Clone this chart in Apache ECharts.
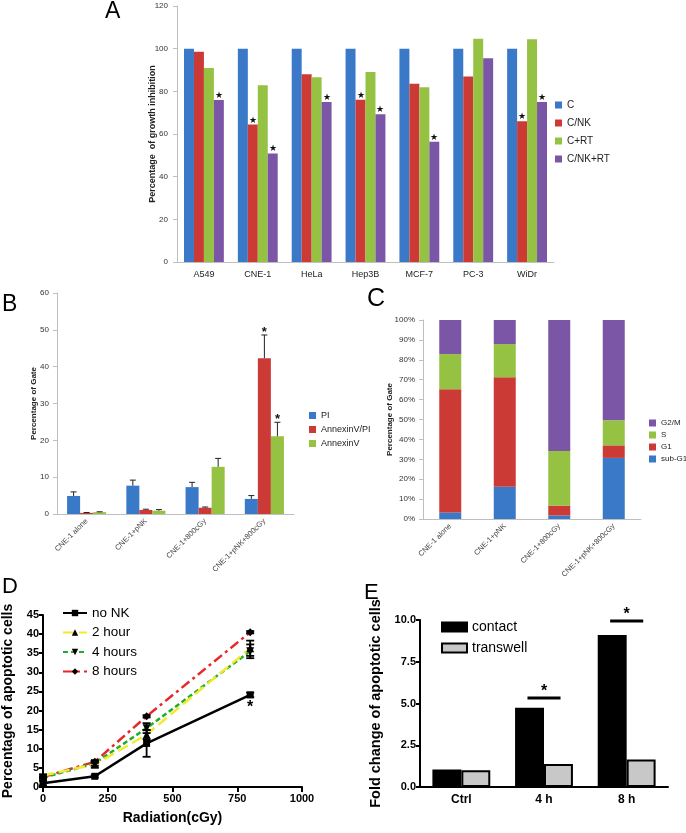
<!DOCTYPE html>
<html><head><meta charset="utf-8">
<script src="https://cdn.jsdelivr.net/npm/echarts@6/dist/echarts.min.js"></script>
<style>html,body{margin:0;padding:0;background:#fff}#c{width:686px;height:833px}</style>
</head><body><div id="c"></div>
<script>
// ---------- Panel A ----------
const aCategories = ['A549','CNE-1','HeLa','Hep3B','MCF-7','PC-3','WiDr'];
const aNames = ['C','C/NK','C+RT','C/NK+RT'];
const aC     = [100,100,100,100,100,100,100];
const aCNK   = [98.6,64.4,88.0,76.1,83.6,86.9,66.0];
const aCRT   = [90.9,82.8,86.6,89.1,81.9,104.7,104.4];
const aCNKRT = [75.9,50.9,75.0,69.2,56.4,95.5,75.0];
const aStarCNK   = [0,1,0,1,0,0,1];
const aStarCNKRT = [1,1,1,1,1,0,1];
// ---------- Panel B ----------
const bCategories = ['CNE-1 alone','CNE-1+pNK','CNE-1+800cGy','CNE-1+pNK+800cGy'];
const bNames = ['PI','AnnexinV/PI','AnnexinV'];
const bPI = [4.9,7.7,7.3,4.1];        const bPIErr = [1.1,1.5,1.3,0.9];
const bAnnPI = [0.3,1.1,1.7,42.3];    const bAnnPIErr = [0.1,0.2,0.2,6.3];
const bAnn = [0.5,0.9,12.8,21.1];     const bAnnErr = [0.1,0.3,2.3,3.8];
const bStarAnnPI = [0,0,0,1];
const bStarAnn = [0,0,0,1];
// ---------- Panel C ----------
const cCategories = ['CNE-1 alone','CNE-1+pNK','CNE-1+800cGy','CNE-1+pNK+800cGy'];
const cSubG1 = [3.3,16.2,1.8,30.7];
const cG1    = [61.9,55.0,4.9,6.3];
const cS     = [17.7,16.7,27.5,12.6];
const cG2M   = [17.1,12.1,65.8,50.4];
// ---------- Panel D ----------
const dX = [0,200,400,800];
const dNoNK = [1.0,2.8,11.4,24.1];  const dNoNKErr = [0.6,0.3,3.5,0.6];
const d2h   = [3.0,5.9,13.7,36.3];  const d2hErr   = [0.3,0.8,1.2,2.0];
const d4h   = [2.4,6.2,15.4,35.5];  const d4hErr   = [0.3,0.6,1.3,1.8];
const d8h   = [2.6,6.6,18.5,40.5];  const d8hErr   = [0.2,0.3,0.3,0.3];
const dStar = [[800,20.9]];
// ---------- Panel E ----------
const eCategories = ['Ctrl','4 h','8 h'];
const eContact   = [1.05,4.75,9.1];
const eTranswell = [1.0,1.37,1.65];
const eSig = [[1,5.33],[2,9.94]];

const F = '"Liberation Sans", Arial, sans-serif';
const blue='#3a78c8', red='#cc3a36', green='#96c244', purple='#7c56a6';
const gray='#bfbfbf';

function starData(vals, stars){
  return vals.map((v,i)=> stars[i] ? {value:v, label:{show:true, position:'top', distance:0, formatter:'★', fontSize:9, color:'#111'}} : v);
}
function catErr(ax, vals, errs, idx, n, gap, stars){
  return {
    type:'custom', xAxisIndex:ax, yAxisIndex:ax, z:5, silent:true,
    data: vals.map((v,i)=>[i, v, errs[i], stars && stars[i] ? 1 : 0]),
    renderItem: function(params, api){
      const i=api.value(0), v=api.value(1), e=api.value(2), s=api.value(3);
      const band = api.size([1,0])[0];
      const tot = band*(1-gap), bw = tot/n;
      const cx = api.coord([i,0])[0] - tot/2 + bw*(idx+0.5);
      const y0 = api.coord([i,v])[1], y1 = api.coord([i,v+e])[1];
      const ch = [
        {type:'line', shape:{x1:cx,y1:y0,x2:cx,y2:y1}, style:{stroke:'#222', lineWidth:1}},
        {type:'line', shape:{x1:cx-3,y1:y1,x2:cx+3,y2:y1}, style:{stroke:'#222', lineWidth:1}}
      ];
      if (s) ch.push({type:'text', style:{text:'*', x:cx, y:y1-3, align:'center', verticalAlign:'middle', font:'bold 13px '+F, fill:'#111'}});
      return {type:'group', children:ch};
    }
  };
}
function valErr(vals, errs){
  return {
    type:'custom', xAxisIndex:3, yAxisIndex:3, z:6, silent:true,
    data: dX.map((x,i)=>[x, vals[i], errs[i]]),
    renderItem: function(params, api){
      const x=api.value(0), v=api.value(1), e=api.value(2);
      const t=api.coord([x, v+e]), b=api.coord([x, Math.max(0,v-e)]);
      const st={stroke:'#000', lineWidth:1.8};
      return {type:'group', children:[
        {type:'line', shape:{x1:t[0],y1:t[1],x2:b[0],y2:b[1]}, style:st},
        {type:'line', shape:{x1:t[0]-4,y1:t[1],x2:t[0]+4,y2:t[1]}, style:st},
        {type:'line', shape:{x1:b[0]-4,y1:b[1],x2:b[0]+4,y2:b[1]}, style:st}
      ]};
    }
  };
}

const excelAxisLabel = {fontFamily:F, fontSize:8, color:'#333'};
const gpLabel = {fontFamily:F, fontSize:11, fontWeight:'bold', color:'#000'};

const option = {
  animation:false,
  backgroundColor:'#fff',
  grid:[
    {left:177, top:6, width:377, height:256, outerBoundsMode:'none'},
    {left:57, top:293, width:237, height:221, outerBoundsMode:'none'},
    {left:423, top:320, width:218, height:199, outerBoundsMode:'none'},
    {left:43, top:615, width:259, height:172, outerBoundsMode:'none'},
    {left:420, top:620, width:248, height:167, outerBoundsMode:'none'}
  ],
  xAxis:[
    {type:'category', gridIndex:0, data:aCategories,
     axisLine:{lineStyle:{color:gray}}, axisTick:{length:4, lineStyle:{color:gray}},
     axisLabel:{fontFamily:F, fontSize:9, color:'#222', margin:8}},
    {type:'category', gridIndex:1, data:bCategories,
     axisLine:{lineStyle:{color:gray}}, axisTick:{length:4, lineStyle:{color:gray}},
     axisLabel:{fontFamily:F, fontSize:7.5, color:'#444', rotate:45, margin:6}},
    {type:'category', gridIndex:2, data:cCategories,
     axisLine:{lineStyle:{color:gray}}, axisTick:{length:4, lineStyle:{color:gray}},
     axisLabel:{fontFamily:F, fontSize:7.5, color:'#444', rotate:45, margin:6}},
    {type:'value', gridIndex:3, min:0, max:1000, interval:250,
     axisLine:{show:true, lineStyle:{color:'#000', width:2}}, axisTick:{show:true, length:5, lineStyle:{color:'#000', width:2}},
     splitLine:{show:false}, axisLabel:Object.assign({margin:6, formatter:v=>String(v)}, gpLabel),
     name:'Radiation(cGy)', nameLocation:'middle', nameGap:24, nameMoveOverlap:false,
     nameTextStyle:{fontFamily:F, fontSize:14, fontWeight:'bold', color:'#000'}},
    {type:'category', gridIndex:4, data:eCategories,
     axisLine:{lineStyle:{color:'#000', width:2}}, axisTick:{show:false},
     axisLabel:Object.assign({margin:7}, gpLabel, {fontSize:12})}
  ],
  yAxis:[
    {type:'value', gridIndex:0, min:0, max:120, interval:20,
     axisLine:{show:true, lineStyle:{color:gray}}, axisTick:{show:true, length:4, lineStyle:{color:gray}},
     splitLine:{show:false}, axisLabel:Object.assign({margin:9}, excelAxisLabel),
     name:'Percentage  of growth inhibition', nameLocation:'middle', nameGap:19.5, nameMoveOverlap:false,
     nameTextStyle:{fontFamily:F, fontSize:9, fontWeight:'bold', color:'#222'}},
    {type:'value', gridIndex:1, min:0, max:60, interval:10,
     axisLine:{show:true, lineStyle:{color:gray}}, axisTick:{show:true, length:4, lineStyle:{color:gray}},
     splitLine:{show:false}, axisLabel:Object.assign({margin:8}, excelAxisLabel),
     name:'Percentage of Gate', nameLocation:'middle', nameGap:19.5, nameMoveOverlap:false,
     nameTextStyle:{fontFamily:F, fontSize:8, fontWeight:'bold', color:'#222'}},
    {type:'value', gridIndex:2, min:0, max:100, interval:10,
     axisLine:{show:true, lineStyle:{color:gray}}, axisTick:{show:true, length:4, lineStyle:{color:gray}},
     splitLine:{show:false}, axisLabel:Object.assign({margin:8, formatter:'{value}%'}, excelAxisLabel),
     name:'Percentage of Gate', nameLocation:'middle', nameGap:29.5, nameMoveOverlap:false,
     nameTextStyle:{fontFamily:F, fontSize:8, fontWeight:'bold', color:'#222'}},
    {type:'value', gridIndex:3, min:0, max:45, interval:5,
     axisLine:{show:true, lineStyle:{color:'#000', width:2}}, axisTick:{show:true, length:4, lineStyle:{color:'#000', width:2}},
     splitLine:{show:false}, axisLabel:Object.assign({margin:4}, gpLabel),
     name:'Percentage of apoptotic cells', nameLocation:'middle', nameGap:27.5, nameMoveOverlap:false,
     nameTextStyle:{fontFamily:F, fontSize:14, fontWeight:'bold', color:'#000'}},
    {type:'value', gridIndex:4, min:0, max:10, interval:2.5,
     axisLine:{show:true, lineStyle:{color:'#000', width:2}}, axisTick:{show:true, length:4, lineStyle:{color:'#000', width:2}},
     splitLine:{show:false}, axisLabel:Object.assign({margin:4, formatter:v=>v.toFixed(1)}, gpLabel),
     name:'Fold change of apoptotic cells', nameLocation:'middle', nameGap:37, nameMoveOverlap:false,
     nameTextStyle:{fontFamily:F, fontSize:14.5, fontWeight:'bold', color:'#000'}}
  ],
  legend:[
    {data:aNames, orient:'vertical', left:555, top:100, padding:0, itemWidth:7, itemHeight:7, itemGap:8, icon:'rect',
     textStyle:{fontFamily:F, fontSize:10, color:'#222'}},
    {data:bNames, orient:'vertical', left:309, top:411, padding:0, itemWidth:7, itemHeight:7, itemGap:5, icon:'rect',
     textStyle:{fontFamily:F, fontSize:9, color:'#222'}},
    {data:['G2/M','S','G1','sub-G1'], orient:'vertical', left:649, top:419, padding:0, itemWidth:7, itemHeight:7, itemGap:4, icon:'rect',
     textStyle:{fontFamily:F, fontSize:8, color:'#222'}},
    {data:['no NK','2 hour','4 hours','8 hours'], orient:'vertical', left:62, top:606, padding:0, itemWidth:24, itemHeight:8, itemGap:5.5,
     textStyle:{fontFamily:F, fontSize:13.5, color:'#000'}},
    {data:['contact','transwell'], orient:'vertical', left:441, top:620, padding:0, itemWidth:25, itemHeight:9, itemGap:7, icon:'rect',
     itemStyle:{borderColor:'#000', borderWidth:2},
     textStyle:{fontFamily:F, fontSize:14, color:'#000'}}
  ],
  graphic:[
    {type:'text', left:105, top:0, style:{text:'A', font:'23px '+F, fill:'#000'}},
    {type:'text', left:2, top:293, style:{text:'B', font:'23px '+F, fill:'#000'}},
    {type:'text', left:367, top:287, style:{text:'C', font:'25px '+F, fill:'#000'}},
    {type:'text', left:2, top:576, style:{text:'D', font:'22px '+F, fill:'#000'}},
    {type:'text', left:364, top:582, style:{text:'E', font:'22px '+F, fill:'#000'}}
  ],
  series:[
    // A
    {name:'C', type:'bar', xAxisIndex:0, yAxisIndex:0, data:aC, barGap:'0%', barCategoryGap:'26%', itemStyle:{color:blue}},
    {name:'C/NK', type:'bar', xAxisIndex:0, yAxisIndex:0, data:starData(aCNK,aStarCNK), itemStyle:{color:red}},
    {name:'C+RT', type:'bar', xAxisIndex:0, yAxisIndex:0, data:aCRT, itemStyle:{color:green}},
    {name:'C/NK+RT', type:'bar', xAxisIndex:0, yAxisIndex:0, data:starData(aCNKRT,aStarCNKRT), itemStyle:{color:purple}},
    // B
    {name:'PI', type:'bar', xAxisIndex:1, yAxisIndex:1, data:bPI, barGap:'0%', barCategoryGap:'34%', itemStyle:{color:blue}},
    {name:'AnnexinV/PI', type:'bar', xAxisIndex:1, yAxisIndex:1, data:bAnnPI, itemStyle:{color:red}},
    {name:'AnnexinV', type:'bar', xAxisIndex:1, yAxisIndex:1, data:bAnn, itemStyle:{color:green}},
    catErr(1, bPI, bPIErr, 0, 3, 0.34, null),
    catErr(1, bAnnPI, bAnnPIErr, 1, 3, 0.34, bStarAnnPI),
    catErr(1, bAnn, bAnnErr, 2, 3, 0.34, bStarAnn),
    // C
    {name:'sub-G1', type:'bar', stack:'c', xAxisIndex:2, yAxisIndex:2, data:cSubG1, barWidth:22, itemStyle:{color:blue}},
    {name:'G1', type:'bar', stack:'c', xAxisIndex:2, yAxisIndex:2, data:cG1, barWidth:22, itemStyle:{color:red}},
    {name:'S', type:'bar', stack:'c', xAxisIndex:2, yAxisIndex:2, data:cS, barWidth:22, itemStyle:{color:green}},
    {name:'G2/M', type:'bar', stack:'c', xAxisIndex:2, yAxisIndex:2, data:cG2M, barWidth:22, itemStyle:{color:purple}},
    // D
    {name:'8 hours', type:'line', xAxisIndex:3, yAxisIndex:3, data:dX.map((x,i)=>[x,d8h[i]]),
     symbol:'diamond', symbolSize:8, itemStyle:{color:'#000'}, lineStyle:{color:'#e8272b', width:2.5, type:[10,4,3,4]}, z:3},
    {name:'4 hours', type:'line', xAxisIndex:3, yAxisIndex:3, data:dX.map((x,i)=>[x,d4h[i]]),
     symbol:'triangle', symbolRotate:180, symbolSize:8, itemStyle:{color:'#000'}, lineStyle:{color:'#1fae2a', width:2.5, type:[5,3]}, z:3},
    {name:'2 hour', type:'line', xAxisIndex:3, yAxisIndex:3, data:dX.map((x,i)=>[x,d2h[i]]),
     symbol:'triangle', symbolSize:8, itemStyle:{color:'#000'}, lineStyle:{color:'#f2ea2e', width:2.5, type:[11,5]}, z:3},
    {name:'no NK', type:'line', xAxisIndex:3, yAxisIndex:3, data:dX.map((x,i)=>[x,dNoNK[i]]),
     symbol:'rect', symbolSize:7, itemStyle:{color:'#000'}, lineStyle:{color:'#000', width:2.5}, z:4},
    valErr(dNoNK, dNoNKErr), valErr(d2h, d2hErr), valErr(d4h, d4hErr), valErr(d8h, d8hErr),
    {type:'custom', xAxisIndex:3, yAxisIndex:3, silent:true, data:dStar,
     renderItem:function(p, api){ const c=api.coord([api.value(0), api.value(1)]);
       return {type:'text', style:{text:'*', x:c[0], y:c[1], align:'center', verticalAlign:'middle', font:'bold 16px '+F, fill:'#000'}}; }},
    // E
    {name:'contact', type:'bar', xAxisIndex:4, yAxisIndex:4, data:eContact, barGap:'0%', barCategoryGap:'30%',
     itemStyle:{color:'#000', borderColor:'#000', borderWidth:2}},
    {name:'transwell', type:'bar', xAxisIndex:4, yAxisIndex:4, data:eTranswell,
     itemStyle:{color:'#c8c8c8', borderColor:'#000', borderWidth:2}},
    {type:'custom', xAxisIndex:4, yAxisIndex:4, silent:true, data:eSig,
     renderItem:function(p, api){
       const c=api.coord([api.value(0), api.value(1)]); const band=api.size([1,0])[0]; const h=band*0.2;
       return {type:'group', children:[
         {type:'line', shape:{x1:c[0]-h, y1:c[1], x2:c[0]+h, y2:c[1]}, style:{stroke:'#000', lineWidth:3}},
         {type:'text', style:{text:'*', x:c[0], y:c[1]-6, align:'center', verticalAlign:'middle', font:'bold 16px '+F, fill:'#000'}}
       ]};
     }}
  ]
};
const chart = echarts.init(document.getElementById('c'));
chart.setOption(option);
</script></body></html>
